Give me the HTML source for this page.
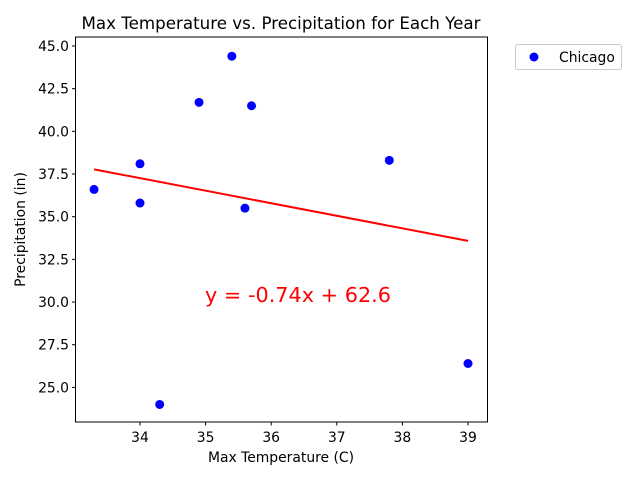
<!DOCTYPE html>
<html><head><meta charset="utf-8">
<style>
body{margin:0;background:#fff;font-family:"Liberation Sans","DejaVu Sans",sans-serif;}
svg text{font-family:"DejaVu Sans","Liberation Sans",sans-serif;}
</style></head>
<body>
<svg id="chart" width="640" height="480" xmlns="http://www.w3.org/2000/svg">
<text x="281" y="29" font-size="16.7" text-anchor="middle" fill="#000">Max Temperature vs. Precipitation for Each Year</text>
<rect x="75.5" y="37" width="412" height="385" fill="none" stroke="#000" stroke-width="1"/>
<g id="xticks"></g>
<g id="yticks"></g>
<g id="marks"></g>
<text x="281" y="462" font-size="13.9" text-anchor="middle">Max Temperature (C)</text>
<text transform="translate(25,229.5) rotate(-90)" font-size="13.9" text-anchor="middle">Precipitation (in)</text>
<text x="205" y="302" font-size="20.8" fill="#ff0000">y = -0.74x + 62.6</text>
<g>
<rect x="515.5" y="44.5" width="106" height="25" rx="2" fill="#fff" stroke="#ccc"/>
<circle cx="534" cy="57" r="4.5" fill="#0000ff"/>
<text x="559" y="62" font-size="13.9">Chicago</text>
</g>
</svg>
<script>
const temps=[33.3,34.0,34.0,34.3,34.9,35.4,35.7,35.6,37.8,39.0];
const precip=[36.6,38.1,35.8,24.0,41.7,44.4,41.5,35.5,38.3,26.4];
const xTicks=[34,35,36,37,38,39];
const yTicks=[25.0,27.5,30.0,32.5,35.0,37.5,40.0,42.5,45.0];
const NS="http://www.w3.org/2000/svg";
function sx(v){return 140+(v-34)*65.6;}
function sy(v){return 46+(45-v)*17.07;}
function mk(t,a,p){const e=document.createElementNS(NS,t);for(const k in a)e.setAttribute(k,a[k]);p.appendChild(e);return e;}
const xg=document.getElementById('xticks'),yg=document.getElementById('yticks'),mg=document.getElementById('marks');
xTicks.forEach(t=>{const x=sx(t);
const l=mk('line',{x1:x,x2:x,y1:422,y2:425.5,stroke:'#000'},xg);


const tx=mk('text',{x:x,y:442,'font-size':13.9,'text-anchor':'middle'},xg);tx.textContent=t;

});
yTicks.forEach(t=>{const y=sy(t);
const l=mk('line',{x1:72,x2:75.5,y1:y,y2:y,stroke:'#000'},yg);


const tx=mk('text',{x:69,y:y+5,'font-size':13.9,'text-anchor':'end'},yg);tx.textContent=t.toFixed(1);

});
const n=temps.length,mx=temps.reduce((a,b)=>a+b)/n,my=precip.reduce((a,b)=>a+b)/n;
let sxy=0,sxx=0;for(let i=0;i<n;i++){sxy+=(temps[i]-mx)*(precip[i]-my);sxx+=(temps[i]-mx)**2;}
const slope=sxy/sxx,icpt=my-slope*mx;
const x0=Math.min(...temps),x1=Math.max(...temps);
const rl=mk('line',{x1:sx(x0),y1:sy(slope*x0+icpt),x2:sx(x1),y2:sy(slope*x1+icpt),stroke:'#ff0000','stroke-width':2},mg);


for(let i=0;i<n;i++){const c=mk('circle',{cx:sx(temps[i]),cy:sy(precip[i]),r:4.5,fill:'#0000ff'},mg);

}
</script>
</body></html>
